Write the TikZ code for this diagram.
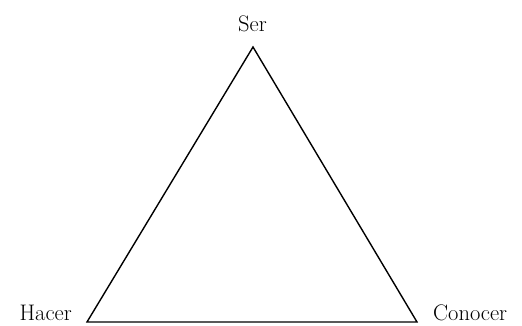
\documentclass[tikz,border=0pt]{standalone}
\begin{document}
\begin{tikzpicture}[x=1pt,y=1pt,
  lbl/.style={inner sep=0pt,font=\fontsize{22.5}{26}\selectfont},
  edge/.style={line width=1.4pt,line join=miter}]
\useasboundingbox (0,0) rectangle (522,326);
\coordinate (A) at (253,279);
\coordinate (B) at (87,4);
\coordinate (C) at (417,4);
\draw[edge] (A) -- (B) -- (C) -- cycle;
\node[lbl,anchor=base] (ser) at (252.5,294) {Ser};
\node[lbl,anchor=base east] (hacer) at (72,5) {Hacer};
\node[lbl,anchor=base west] (conocer) at (433,5) {Conocer};
\end{tikzpicture}
\end{document}
